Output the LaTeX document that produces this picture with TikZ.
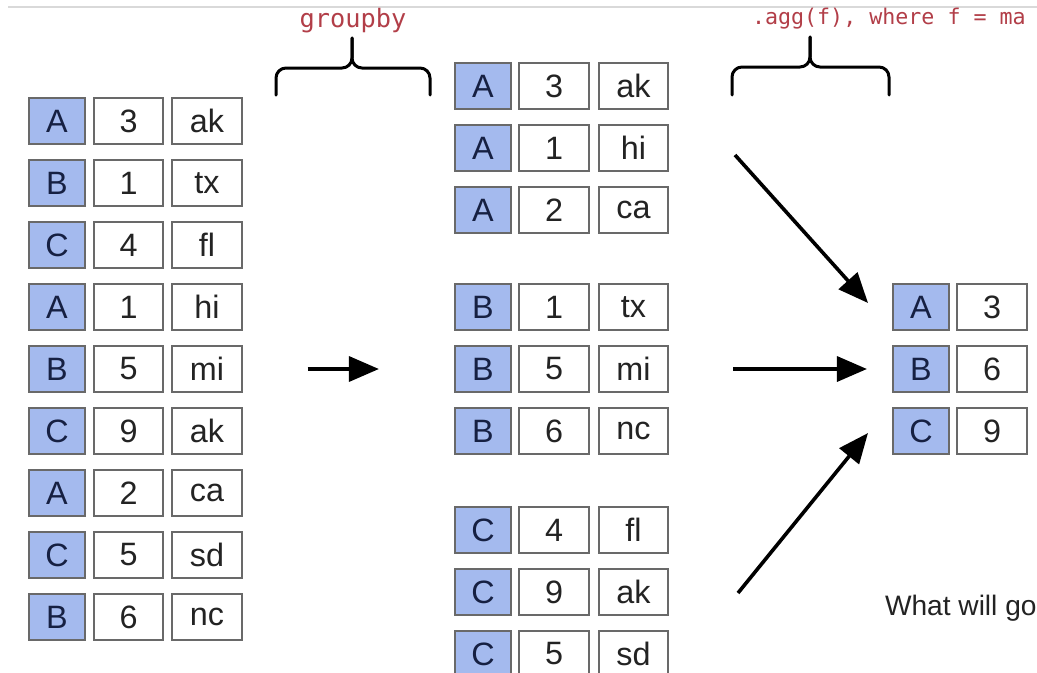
\documentclass[tikz,border=0pt]{standalone}
\usepackage{fontspec}
\setmainfont{Liberation Sans}
\setmonofont{DejaVu Sans Mono}
\usetikzlibrary{arrows.meta}

\definecolor{keyblue}{RGB}{164,186,238}
\definecolor{cellline}{RGB}{105,105,105}
\definecolor{codered}{RGB}{178,62,72}
\definecolor{inkgray}{RGB}{35,35,35}
\definecolor{keyink}{RGB}{22,32,66}

\begin{document}
\begin{tikzpicture}[x=0.025cm, y=-0.025cm,
  every node/.style={outer sep=0pt, inner sep=0pt, font=\fontsize{23}{27}\selectfont},
  cell/.style={draw=cellline, line width=0.05cm, minimum height=1.2cm-\pgflinewidth, text=inkgray},
  kcell/.style={cell, fill=keyblue, text=keyink, minimum width=1.45cm-\pgflinewidth},
  vcell/.style={cell, fill=white, minimum width=1.78cm-\pgflinewidth},
  flow/.style={line width=0.1cm, -{Triangle[length=0.75cm,width=0.62cm]}},
  brace/.style={line width=0.075cm, rounded corners=0.25cm, line cap=round},
  code/.style={text=codered, font=\ttfamily\fontsize{18}{20}\selectfont}]
\clip (0,0) rectangle (1037,672);
\fill[white] (0,0) rectangle (1037,672);
\draw[black!15, line width=0.05cm] (8,7) -- (1037,7);

% unsorted frame
\node[kcell] (l1k) at (57,121) {A};
\node[vcell] (l1v) at (128.5,121) {3};
\node[vcell] (l1s) at (207,121) {ak};
\node[kcell] (l2k) at (57,183) {B};
\node[vcell] (l2v) at (128.5,183) {1};
\node[vcell] (l2s) at (207,183) {tx};
\node[kcell] (l3k) at (57,245) {C};
\node[vcell] (l3v) at (128.5,245) {4};
\node[vcell] (l3s) at (207,245) {fl};
\node[kcell] (l4k) at (57,307) {A};
\node[vcell] (l4v) at (128.5,307) {1};
\node[vcell] (l4s) at (207,307) {hi};
\node[kcell] (l5k) at (57,369) {B};
\node[vcell] (l5v) at (128.5,369) {5};
\node[vcell] (l5s) at (207,369) {mi};
\node[kcell] (l6k) at (57,431) {C};
\node[vcell] (l6v) at (128.5,431) {9};
\node[vcell] (l6s) at (207,431) {ak};
\node[kcell] (l7k) at (57,493) {A};
\node[vcell] (l7v) at (128.5,493) {2};
\node[vcell] (l7s) at (207,493) {ca};
\node[kcell] (l8k) at (57,555) {C};
\node[vcell] (l8v) at (128.5,555) {5};
\node[vcell] (l8s) at (207,555) {sd};
\node[kcell] (l9k) at (57,617) {B};
\node[vcell] (l9v) at (128.5,617) {6};
\node[vcell] (l9s) at (207,617) {nc};

% groups
\node[kcell] (mA1k) at (483,86) {A};
\node[vcell] (mA1v) at (554,86) {3};
\node[vcell] (mA1s) at (633.5,86) {ak};
\node[kcell] (mA2k) at (483,148) {A};
\node[vcell] (mA2v) at (554,148) {1};
\node[vcell] (mA2s) at (633.5,148) {hi};
\node[kcell] (mA3k) at (483,210) {A};
\node[vcell] (mA3v) at (554,210) {2};
\node[vcell] (mA3s) at (633.5,210) {ca};

\node[kcell] (mB1k) at (483,307) {B};
\node[vcell] (mB1v) at (554,307) {1};
\node[vcell] (mB1s) at (633.5,307) {tx};
\node[kcell] (mB2k) at (483,369) {B};
\node[vcell] (mB2v) at (554,369) {5};
\node[vcell] (mB2s) at (633.5,369) {mi};
\node[kcell] (mB3k) at (483,431) {B};
\node[vcell] (mB3v) at (554,431) {6};
\node[vcell] (mB3s) at (633.5,431) {nc};

\node[kcell] (mC1k) at (483,530) {C};
\node[vcell] (mC1v) at (554,530) {4};
\node[vcell] (mC1s) at (633.5,530) {fl};
\node[kcell] (mC2k) at (483,592) {C};
\node[vcell] (mC2v) at (554,592) {9};
\node[vcell] (mC2s) at (633.5,592) {ak};
\node[kcell] (mC3k) at (483,654) {C};
\node[vcell] (mC3v) at (554,654) {5};
\node[vcell] (mC3s) at (633.5,654) {sd};

% result
\node[kcell] (rAk) at (921,307) {A};
\node[vcell] (rAv) at (992,307) {3};
\node[kcell] (rBk) at (921,369) {B};
\node[vcell] (rBv) at (992,369) {6};
\node[kcell] (rCk) at (921,431) {C};
\node[vcell] (rCv) at (992,431) {9};

% braces and code
\draw[brace] (276,95) -- (276,68) -- (352,68) -- (352,38);
\draw[brace] (430,95) -- (430,68) -- (352,68) -- (352,38);
\node[code] (grpby) at (353,21) {groupby};
\draw[brace] (732,95) -- (732,67) -- (810,67) -- (810,37);
\draw[brace] (889,95) -- (889,67) -- (810,67) -- (810,37);
\node[code, font=\ttfamily\fontsize{15.4}{18}\selectfont, anchor=west] (aggf) at (752,19) {.agg(f), where f = ma};

% arrows
\draw[flow, shorten <=1.65cm, shorten >=1.9cm] (l5s) -- (mB2k);
\draw[flow, shorten <=1.625cm, shorten >=0.65cm] (mB2s) -- (rBk);
\coordinate (fromA) at (735,155);
\coordinate (toA) at (868,303);
\draw[flow, line width=0.09cm] (fromA) -- (toA);
\coordinate (fromC) at (738,593);
\coordinate (toC) at (868,433);
\draw[flow, line width=0.09cm] (fromC) -- (toC);

\node[anchor=west, text=inkgray, font=\fontsize{20}{24}\selectfont] (ask) at (885,608) {What will go};
\end{tikzpicture}
\end{document}
